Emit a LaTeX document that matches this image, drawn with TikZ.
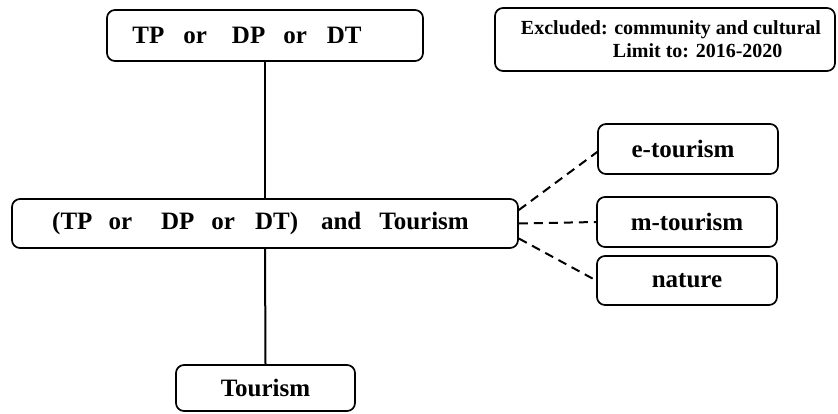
\documentclass[tikz,border=0pt]{standalone}
\usepackage{fontspec}
\setmainfont{Liberation Serif}
\begin{document}
\begin{tikzpicture}[x=1pt,y=-1pt,
  box/.style={draw, line width=1.7pt, rounded corners=8pt, inner sep=0pt, font=\fontsize{25}{30}\selectfont\bfseries},
  notebox/.style={draw, line width=1.7pt, rounded corners=8pt, inner sep=0pt, align=left, font=\fontsize{20}{23}\selectfont\bfseries},
  conn/.style={line width=2pt},
  dashconn/.style={line width=2pt, dash pattern=on 9pt off 6pt}]
\useasboundingbox (0,0) rectangle (838,413);
\node[box, minimum width=316pt, minimum height=51pt] (top) at (265,35.5)
  {TP\hspace{19pt}or\hspace{25pt}DP\hspace{18pt}or\hspace{20pt}DT\hspace*{36pt}};
\node[notebox, minimum width=340pt, minimum height=63pt] (note) at (665,39.5)
  {\hspace*{12pt}Excluded: community and cultural\\\hspace*{104pt}Limit to: 2016-2020};
\node[box, minimum width=506pt, minimum height=49pt] (main) at (265,223.5)
  {(TP\hspace{16pt}or\hspace{29pt}DP\hspace{17pt}or\hspace{20pt}DT)\hspace{23pt}and\hspace{18pt}Tourism\hspace*{9pt}};
\node[box, minimum width=180pt, minimum height=50pt] (etour) at (688,149) {e-tourism\hspace*{10pt}};
\node[box, minimum width=180pt, minimum height=50pt] (mtour) at (687,222) {m-tourism};
\node[box, minimum width=180pt, minimum height=49pt] (nature) at (687,280.5) {nature};
\node[box, minimum width=179pt, minimum height=46pt] (tourism) at (265.5,388) {Tourism};
\draw[conn] (top.south) -- (main.north);
\draw[conn] (main.south) -- (tourism.north);
\draw[dashconn] ([yshift=13.5pt]main.east) -- ([yshift=-3pt]etour.west);
\draw[dashconn] (main.east) -- (mtour.west);
\draw[dashconn] ([yshift=-15pt]main.east) -- (nature.west);
\end{tikzpicture}
\end{document}
